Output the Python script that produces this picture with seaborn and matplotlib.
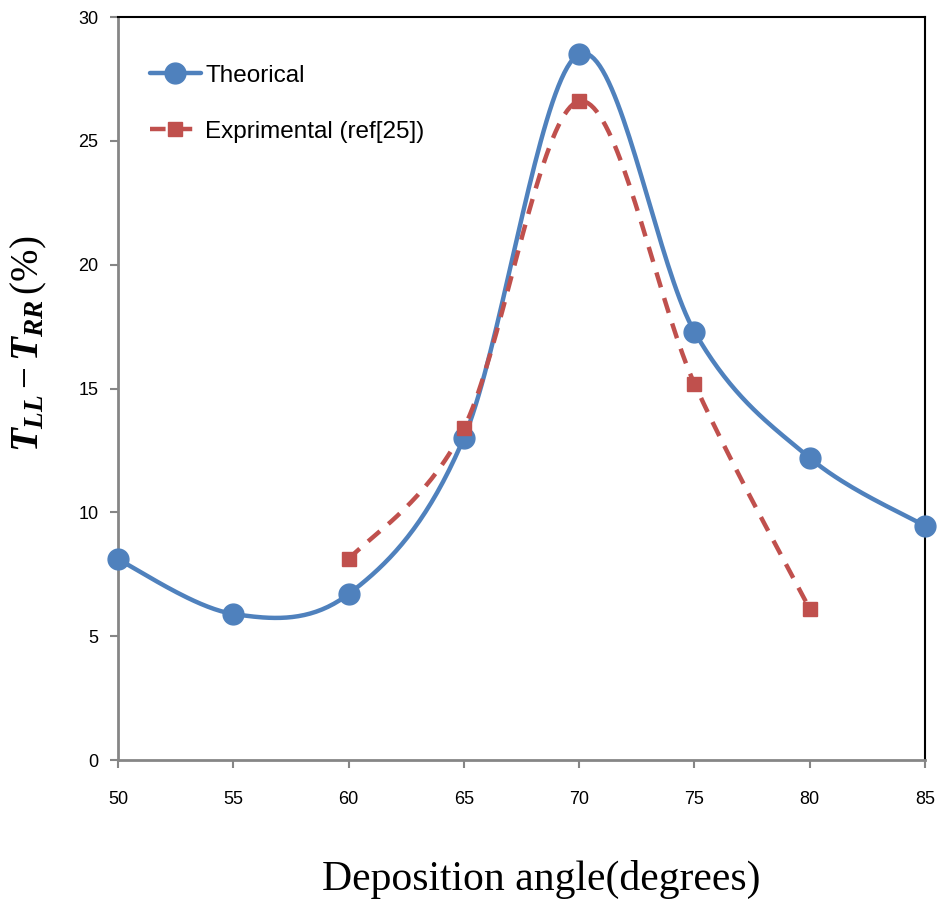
import numpy as np
import pandas as pd
import matplotlib
matplotlib.use("Agg")
import matplotlib.pyplot as plt
from matplotlib.lines import Line2D
import seaborn as sns

# data
theo_angle = [50, 55, 60, 65, 70, 75, 80, 85]
theo_value = [8.1, 5.9, 6.7, 13.0, 28.5, 17.3, 12.2, 9.45]
exp_angle = [60, 65, 70, 75, 80]
exp_value = [8.1, 13.4, 26.6, 15.2, 6.1]

x_ticks = [50, 55, 60, 65, 70, 75, 80, 85]
y_ticks = [0, 5, 10, 15, 20, 25, 30]

BLUE = "#4F81BD"
RED = "#C0504D"
GRAY = "#868686"


def smooth_line(xs, ys, n=40):
    # Excel-like smoothed line: cubic Bezier with Catmull-Rom control points
    xs = np.asarray(xs, float)
    ys = np.asarray(ys, float)
    px = np.concatenate([[xs[0]], xs, [xs[-1]]])
    py = np.concatenate([[ys[0]], ys, [ys[-1]]])
    out_x, out_y = [], []
    t = np.linspace(0, 1, n)
    for i in range(1, len(px) - 2):
        p0 = np.array([px[i], py[i]])
        p3 = np.array([px[i + 1], py[i + 1]])
        p1 = p0 + (np.array([px[i + 1], py[i + 1]]) - np.array([px[i - 1], py[i - 1]])) / 6
        p2 = p3 - (np.array([px[i + 2], py[i + 2]]) - np.array([px[i], py[i]])) / 6
        b = ((1 - t) ** 3)[:, None] * p0 + (3 * (1 - t) ** 2 * t)[:, None] * p1 \
            + (3 * (1 - t) * t ** 2)[:, None] * p2 + (t ** 3)[:, None] * p3
        out_x.extend(b[:, 0])
        out_y.extend(b[:, 1])
    return np.array(out_x), np.array(out_y)


sns.set_style("white")
plt.rcParams["font.family"] = ["Liberation Sans", "DejaVu Sans"]
plt.rcParams["text.color"] = "black"
plt.rcParams["axes.labelcolor"] = "black"
plt.rcParams["xtick.labelcolor"] = "black"
plt.rcParams["ytick.labelcolor"] = "black"
plt.rcParams["mathtext.fontset"] = "custom"
plt.rcParams["mathtext.it"] = "Liberation Serif:italic:bold"
plt.rcParams["mathtext.rm"] = "Liberation Serif"
plt.rcParams["mathtext.bf"] = "Liberation Serif:bold"

fig = plt.figure(figsize=(9.4, 9.06), dpi=100)
ax = fig.add_axes([0.1255, 0.1611, 0.8585, 0.8201])

sx, sy = smooth_line(theo_angle, theo_value)
curve = pd.DataFrame({"x": sx, "y": sy})
sns.lineplot(data=curve, x="x", y="y", sort=False, color=BLUE, lw=3.2, ax=ax, zorder=2)
ax.plot(theo_angle, theo_value, "o", color=BLUE, ms=15, zorder=4, clip_on=False)

ex, ey = smooth_line(exp_angle, exp_value)
exp_curve = pd.DataFrame({"x": ex, "y": ey})
sns.lineplot(data=exp_curve, x="x", y="y", sort=False, color=RED, lw=3.2, ax=ax, zorder=3,
             linestyle=(0, (3.5, 2.5)))
ax.plot(exp_angle, exp_value, "s", color=RED, ms=10, zorder=5, clip_on=False)

ax.set_xlim(50, 85)
ax.set_ylim(0, 30)
ax.set_xticks(x_ticks)
ax.set_yticks(y_ticks)
ax.tick_params(axis="both", direction="out", length=6, width=1.5, color=GRAY,
               labelsize=13, pad=8, left=True, bottom=True)
ax.tick_params(axis="x", pad=16)

for side in ["left", "bottom"]:
    ax.spines[side].set_color(GRAY)
    ax.spines[side].set_linewidth(2)
for side in ["top", "right"]:
    ax.spines[side].set_color("black")
    ax.spines[side].set_linewidth(1.5)

ax.set_xlabel("Deposition angle(degrees)", family="Liberation Serif", fontsize=30)
ax.xaxis.set_label_coords(0.524, -0.135)
ax.set_ylabel(r"$T_{LL}-T_{RR}\,(\%)$", fontsize=28)
ax.yaxis.set_label_coords(-0.085, 0.56)

handles = [
    Line2D([], [], color=BLUE, lw=3.2, marker="o", ms=15),
    Line2D([], [], color=RED, lw=3.2, marker="s", ms=10, linestyle=(0, (3.5, 2.5))),
]
ax.legend(handles, ["Theorical", "Exprimental (ref[25])"], loc="upper left",
          bbox_to_anchor=(0.012, 0.965), frameon=False, fontsize=17.5,
          handlelength=2.1, handletextpad=0.2, labelspacing=1.4)

fig.savefig("out.png", dpi=100)
